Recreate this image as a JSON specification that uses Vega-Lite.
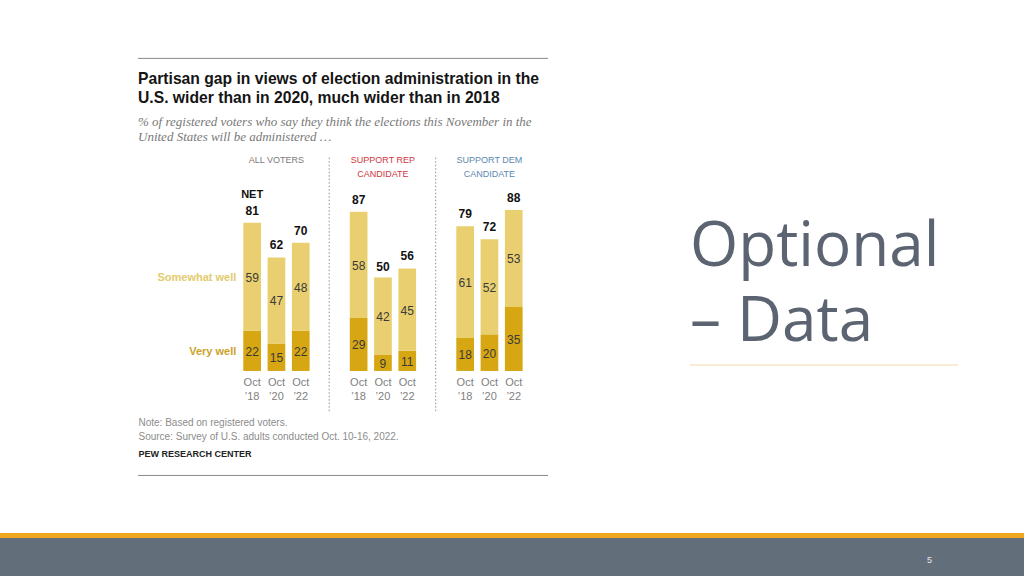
{
  "$schema": "https://vega.github.io/schema/vega-lite/v6.json",
  "background": "#ffffff",
  "padding": {"left": 0, "top": 57, "right": 0, "bottom": 0},
  "autosize": {"type": "pad"},
  "config": {"view": {"stroke": null}, "font": "Liberation Sans"},
  "datasets": {
    "bars": [
      {"group": "All voters", "period": "Oct ’18", "category": "Very well", "value": 22},
      {"group": "All voters", "period": "Oct ’18", "category": "Somewhat well", "value": 59},
      {"group": "All voters", "period": "Oct ’20", "category": "Very well", "value": 15},
      {"group": "All voters", "period": "Oct ’20", "category": "Somewhat well", "value": 47},
      {"group": "All voters", "period": "Oct ’22", "category": "Very well", "value": 22},
      {"group": "All voters", "period": "Oct ’22", "category": "Somewhat well", "value": 48},
      {"group": "Support Rep", "period": "Oct ’18", "category": "Very well", "value": 29},
      {"group": "Support Rep", "period": "Oct ’18", "category": "Somewhat well", "value": 58},
      {"group": "Support Rep", "period": "Oct ’20", "category": "Very well", "value": 9},
      {"group": "Support Rep", "period": "Oct ’20", "category": "Somewhat well", "value": 42},
      {"group": "Support Rep", "period": "Oct ’22", "category": "Very well", "value": 11},
      {"group": "Support Rep", "period": "Oct ’22", "category": "Somewhat well", "value": 45},
      {"group": "Support Dem", "period": "Oct ’18", "category": "Very well", "value": 18},
      {"group": "Support Dem", "period": "Oct ’18", "category": "Somewhat well", "value": 61},
      {"group": "Support Dem", "period": "Oct ’20", "category": "Very well", "value": 20},
      {"group": "Support Dem", "period": "Oct ’20", "category": "Somewhat well", "value": 52},
      {"group": "Support Dem", "period": "Oct ’22", "category": "Very well", "value": 35},
      {"group": "Support Dem", "period": "Oct ’22", "category": "Somewhat well", "value": 53}
    ],
    "nets": [
      {"group": "All voters", "period": "Oct ’18", "net": 81},
      {"group": "All voters", "period": "Oct ’20", "net": 62},
      {"group": "All voters", "period": "Oct ’22", "net": 70},
      {"group": "Support Rep", "period": "Oct ’18", "net": 87},
      {"group": "Support Rep", "period": "Oct ’20", "net": 50},
      {"group": "Support Rep", "period": "Oct ’22", "net": 56},
      {"group": "Support Dem", "period": "Oct ’18", "net": 79},
      {"group": "Support Dem", "period": "Oct ’20", "net": 72},
      {"group": "Support Dem", "period": "Oct ’22", "net": 88}
    ],
    "slide": [{"page": "5", "heading": "Optional – Data"}]
  },
  "bounds": "full",
  "spacing": 57,
  "vconcat": [
    {
      "bounds": "flush",
      "spacing": 0,
      "hconcat": [
        {"width": 138, "height": 1, "data": {"values": []}, "mark": "text", "encoding": {}},
        {
          "width": 410,
          "height": 418,
          "title": {
            "text": ["Partisan gap in views of election administration in the", "U.S. wider than in 2020, much wider than in 2018"],
            "subtitle": ["% of registered voters who say they think the elections this November in the", "United States will be administered …"],
            "anchor": "start",
            "frame": "group",
            "orient": "top",
            "offset": -87,
            "font": "Liberation Sans Narrow, Liberation Sans",
            "fontSize": 15.7,
            "fontWeight": "bold",
            "color": "#151515",
            "lineHeight": 19.5,
            "subtitleFont": "Liberation Serif",
            "subtitleFontStyle": "italic",
            "subtitleFontSize": 13,
            "subtitleColor": "#787878",
            "subtitleLineHeight": 15,
            "subtitlePadding": 9
          },
          "resolve": {"axis": {"x": "independent", "y": "independent"}},
          "layer": [
            {
              "data": {"name": "nets"},
              "transform": [{"filter": "datum.group === 'All voters' && datum.period === 'Oct ’18'"}],
              "mark": {"type": "rule", "color": "#888888", "strokeWidth": 1},
              "encoding": {"y": {"datum": 170.8, "type": "quantitative", "axis": null}}
            },
            {
              "data": {"name": "nets"},
              "transform": [{"filter": "datum.group === 'All voters' && datum.period === 'Oct ’18'"}],
              "mark": {"type": "rule", "color": "#888888", "strokeWidth": 1},
              "encoding": {"y": {"datum": -57.1, "type": "quantitative", "axis": null}}
            },
            {
              "data": {"name": "bars"},
              "transform": [{"filter": "datum.group !== 'All voters' && datum.period === 'Oct ’18' && datum.category === 'Very well'"}],
              "mark": {"type": "rule", "color": "#8f8f8f", "strokeWidth": 1, "strokeDash": [1.5, 2], "xOffset": -20.6},
              "encoding": {
                "x": {"field": "group", "type": "nominal", "bandPosition": 0, "axis": null},
                "y": {"datum": -22, "type": "quantitative", "axis": null},
                "y2": {"datum": 117.5}
              }
            },
            {
              "data": {"name": "bars"},
              "mark": {"type": "bar"},
              "encoding": {
                "x": {
                  "field": "group",
                  "type": "nominal",
                  "scale": {"domain": ["All voters", "Support Rep", "Support Dem"], "paddingInner": 0.3775, "paddingOuter": 0.6136, "align": 0.8056},
                  "axis": {
                    "orient": "top",
                    "offset": -97,
                    "domain": false,
                    "ticks": false,
                    "tickSize": 0,
                    "labelPadding": 0,
                    "labelBaseline": "top",
                    "labelAngle": 0,
                    "labelFont": "Liberation Sans",
                    "labelFontSize": 9,
                    "labelLineHeight": 14,
                    "labelExpr": "datum.value === 'All voters' ? 'ALL VOTERS' : datum.value === 'Support Rep' ? ['SUPPORT REP', 'CANDIDATE'] : ['SUPPORT DEM', 'CANDIDATE']",
                    "labelColor": {
                      "condition": [
                        {"test": "datum.value === 'Support Rep'", "value": "#d1363f"},
                        {"test": "datum.value === 'Support Dem'", "value": "#5b88b0"}
                      ],
                      "value": "#7a7a7a"
                    },
                    "title": null
                  }
                },
                "xOffset": {"field": "period", "type": "nominal", "scale": {"domain": ["Oct ’18", "Oct ’20", "Oct ’22"], "paddingInner": 0.272, "paddingOuter": 0}},
                "y": {
                  "field": "value",
                  "type": "quantitative",
                  "stack": "zero",
                  "scale": {"domain": [-57.4, 171], "nice": false, "zero": false},
                  "axis": {
                    "title": "PEW RESEARCH CENTER",
                    "titleAngle": 0,
                    "titleX": 0,
                    "titleY": 391,
                    "titleAlign": "left",
                    "titleBaseline": "top",
                    "titleFont": "Liberation Sans",
                    "titleFontSize": 9,
                    "titleFontWeight": "bold",
                    "titleColor": "#222222",
                    "labels": false,
                    "ticks": false,
                    "domain": false,
                    "grid": false
                  }
                },
                "color": {"field": "category", "type": "nominal", "scale": {"domain": ["Very well", "Somewhat well"], "range": ["#d6a613", "#e9cf6f"]}, "legend": null},
                "order": {"field": "category", "sort": "descending"}
              }
            },
            {
              "data": {"name": "bars"},
              "mark": {"type": "text", "fontSize": 12, "color": "#3a3a3a", "baseline": "middle", "dy": 1},
              "encoding": {
                "x": {"field": "group", "type": "nominal", "axis": null},
                "xOffset": {"field": "period", "type": "nominal"},
                "y": {"field": "value", "type": "quantitative", "stack": "zero", "bandPosition": 0.5, "axis": null},
                "detail": {"field": "category"},
                "order": {"field": "category", "sort": "descending"},
                "text": {"field": "value", "type": "quantitative"}
              }
            },
            {
              "data": {"name": "bars"},
              "transform": [{"filter": "datum.group === 'All voters' && datum.period === 'Oct ’18'"}],
              "mark": {"type": "text", "fontSize": 11, "fontWeight": "bold", "align": "right", "dx": -7, "baseline": "middle", "dy": 1},
              "encoding": {
                "x": {"field": "group", "type": "nominal", "bandPosition": 0, "axis": null},
                "y": {"field": "value", "type": "quantitative", "stack": "zero", "bandPosition": 0.5, "axis": null},
                "detail": {"field": "category"},
                "order": {"field": "category", "sort": "descending"},
                "text": {"field": "category"},
                "color": {"condition": {"test": "datum.category === 'Very well'", "value": "#cba12a"}, "value": "#e2cb6c"}
              }
            },
            {
              "data": {"name": "nets"},
              "mark": {"type": "text", "fontSize": 12, "fontWeight": "bold", "color": "#111111", "baseline": "alphabetic", "dy": -8},
              "encoding": {
                "x": {"field": "group", "type": "nominal", "axis": null},
                "xOffset": {"field": "period", "type": "nominal"},
                "y": {"field": "net", "type": "quantitative", "axis": null},
                "text": {"field": "net", "type": "quantitative"}
              }
            },
            {
              "data": {"name": "nets"},
              "transform": [{"filter": "datum.group === 'All voters' && datum.period === 'Oct ’18'"}],
              "mark": {"type": "text", "fontSize": 11, "fontWeight": "bold", "color": "#111111", "baseline": "alphabetic", "dy": -25},
              "encoding": {
                "x": {"field": "group", "type": "nominal", "axis": null},
                "xOffset": {"field": "period", "type": "nominal"},
                "y": {"field": "net", "type": "quantitative", "axis": null},
                "text": {"value": "NET"}
              }
            },
            {
              "data": {"name": "bars"},
              "transform": [{"filter": "datum.category === 'Very well'"}],
              "mark": {"type": "text", "fontSize": 11, "color": "#808080", "baseline": "top", "dy": 6, "lineBreak": " ", "lineHeight": 14},
              "encoding": {
                "x": {
                  "field": "group",
                  "type": "nominal",
                  "axis": {
                    "orient": "bottom",
                    "labels": false,
                    "ticks": false,
                    "domain": false,
                    "title": ["Note: Based on registered voters.", "Source: Survey of U.S. adults conducted Oct. 10-16, 2022."],
                    "titleX": 0,
                    "titleY": -59,
                    "titleAlign": "left",
                    "titleAnchor": "start",
                    "titleBaseline": "top",
                    "titleFont": "Liberation Sans",
                    "titleFontSize": 10,
                    "titleFontWeight": "normal",
                    "titleColor": "#8c8c8c",
                    "titleLineHeight": 14
                  }
                },
                "xOffset": {"field": "period", "type": "nominal"},
                "y": {"datum": 0, "type": "quantitative", "axis": null},
                "text": {"field": "period"}
              }
            }
          ]
        },
        {"width": 142, "height": 1, "data": {"values": []}, "mark": "text", "encoding": {}},
        {
          "width": 268,
          "height": 307,
          "data": {"name": "slide"},
          "title": {
            "text": ["Optional", "– Data"],
            "anchor": "start",
            "frame": "group",
            "orient": "top",
            "offset": -296,
            "font": "Open Sans",
            "fontSize": 62,
            "fontWeight": "normal",
            "color": "#5b6470",
            "lineHeight": 75
          },
          "mark": {"type": "rule", "color": "#f3d9a6", "strokeWidth": 1},
          "encoding": {"y": {"datum": 0, "type": "quantitative", "scale": {"domain": [0, 1]}, "axis": null}}
        }
      ]
    },
    {
      "bounds": "flush",
      "spacing": 0,
      "vconcat": [
        {"width": 1024, "height": 5, "view": {"fill": "#f0a61e", "stroke": null}, "data": {"values": []}, "mark": "text", "encoding": {}},
        {
          "width": 1024,
          "height": 39,
          "view": {"fill": "#636e7b", "stroke": null},
          "data": {"values": []},
          "title": {"text": "5", "anchor": "start", "frame": "group", "orient": "top", "dx": 927, "offset": -27, "fontSize": 9, "fontWeight": "normal", "color": "#e3e7ec"},
          "mark": "text",
          "encoding": {}
        }
      ]
    }
  ]
}
